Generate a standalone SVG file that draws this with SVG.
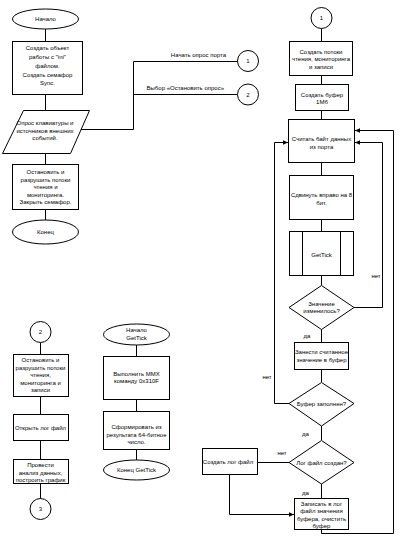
<svg xmlns="http://www.w3.org/2000/svg" width="406" height="544" viewBox="0 0 406 544">
<style>
.s{fill:#fff;stroke:#000;stroke-width:1}
.c{fill:none;stroke:#000;stroke-width:1}
.t{font-family:"Liberation Sans",Arial,sans-serif;font-size:6px;fill:#000;text-anchor:middle}
.r{text-anchor:end}
</style>
<defs>
<marker id="ar" markerUnits="userSpaceOnUse" markerWidth="6" markerHeight="6" refX="5" refY="3" orient="auto">
<path d="M0,0.8 L5,3 L0,5.2 Z" fill="#000"/>
</marker>
</defs>
<rect width="406" height="544" fill="#fff"/>
<g id="connectors">
<path class="c" d="M45.5,29 V41 M45.5,95 V110 M45.5,153 V164 M45.5,210 V220"/>
<path class="c" d="M80.5,129.5 H133.5 V61.5 H237.5 M133.5,94.5 H237.5"/>
<path class="c" d="M321.5,28.5 V41 M321.5,76 V84 M321.5,111 V119 M321.5,163 V175 M321.5,220 V231 M321.5,276 V285 M321.5,329 V342 M321.5,370 V382 M321.5,426 V440 M321.5,484 V498"/>
<path class="c" d="M354,307.5 H382.5 V142.5 H355" marker-end="url(#ar)"/>
<path class="c" d="M289,403.5 H274.5 V142.5 H288" marker-end="url(#ar)"/>
<path class="c" d="M289,462.5 H258"/>
<path class="c" d="M229.5,475 V514.5 H294" marker-end="url(#ar)"/>
<path class="c" d="M321.5,530 V533.5 H393.5 V130.5 H355" marker-end="url(#ar)"/>
<path class="c" d="M40.5,342.5 V354 M40.5,397 V414 M40.5,441 V459 M40.5,483 V498.5"/>
<path class="c" d="M136.5,345 V356 M136.5,400 V411 M136.5,450 V460"/>
<text class="t r" x="226" y="57">Начать опрос порта</text>
<text class="t r" x="224" y="90">Выбор «Остановить опрос»</text>
<text class="t" x="376" y="278">нет</text>
<text class="t" x="307" y="338">да</text>
<text class="t" x="267" y="379">нет</text>
<text class="t" x="305.5" y="436">да</text>
<text class="t" x="282" y="455">нет</text>
<text class="t" x="305.5" y="495">да</text>
</g>
<g id="start">
<ellipse class="s" cx="45.5" cy="19" rx="33" ry="10"/>
<text class="t" x="45.5" y="21">Начало</text>
</g>
<g id="init">
<rect class="s" x="12.5" y="41.5" width="70" height="53"/>
<text class="t" x="47.5" y="50">Создать объект</text>
<text class="t" x="47.5" y="59">работы с "ini"</text>
<text class="t" x="47.5" y="68">файлом.</text>
<text class="t" x="47.5" y="76.5">Создать семафор</text>
<text class="t" x="47.5" y="85">Sync.</text>
</g>
<g id="poll">
<polygon class="s" points="23.5,110.5 89.5,110.5 70.5,153.5 2.5,153.5"/>
<text class="t" x="45" y="125">Опрос клавиатуры и</text>
<text class="t" x="45" y="132.5">источников внешних</text>
<text class="t" x="45" y="140">событий.</text>
</g>
<g id="stop1">
<rect class="s" x="12.5" y="164.5" width="66" height="45"/>
<text class="t" x="45.5" y="174">Остановить и</text>
<text class="t" x="45.5" y="181.5">разрушить потоки</text>
<text class="t" x="45.5" y="189">чтения и</text>
<text class="t" x="45.5" y="196.5">мониторинга.</text>
<text class="t" x="45.5" y="204">Закрыть семафор.</text>
</g>
<g id="end">
<ellipse class="s" cx="45.5" cy="232" rx="33" ry="12"/>
<text class="t" x="45.5" y="234">Конец</text>
</g>
<g id="c1">
<circle class="s" cx="248" cy="61" r="10.5"/>
<text class="t" x="248" y="63">1</text>
</g>
<g id="c2">
<circle class="s" cx="248" cy="94.5" r="10.5"/>
<text class="t" x="248" y="96.5">2</text>
</g>
<g id="r1">
<circle class="s" cx="321.5" cy="18" r="10.5"/>
<text class="t" x="321.5" y="20">1</text>
</g>
<g id="threads">
<rect class="s" x="289.5" y="41.5" width="63" height="34"/>
<text class="t" x="321" y="53.5">Создать потоки</text>
<text class="t" x="321" y="61">чтения, мониторинга</text>
<text class="t" x="321" y="68.5">и записи</text>
</g>
<g id="buffer">
<rect class="s" x="295.5" y="84.5" width="53" height="26"/>
<text class="t" x="322" y="96.5">Создать буфер</text>
<text class="t" x="322" y="104">1Мб</text>
</g>
<g id="read">
<rect class="s" x="288.5" y="119.5" width="66" height="43"/>
<text class="t" x="321.5" y="141">Считать байт данных</text>
<text class="t" x="321.5" y="149">из порта</text>
</g>
<g id="shift">
<rect class="s" x="289.5" y="175.5" width="64" height="44"/>
<text class="t" x="321.5" y="197">Сдвинуть вправо на 8</text>
<text class="t" x="321.5" y="204.5">бит.</text>
</g>
<g id="gettick">
<rect class="s" x="289.5" y="231.5" width="64" height="44"/>
<path class="c" d="M302.5,231.5 V275.5 M340.5,231.5 V275.5"/>
<text class="t" x="321.5" y="256.5">GetTick</text>
</g>
<g id="changed">
<polygon class="s" points="321.5,285.5 354,307.5 321.5,329.5 289,307.5"/>
<text class="t" x="321.5" y="305.5">Значение</text>
<text class="t" x="321.5" y="313">изменилось?</text>
</g>
<g id="store">
<rect class="s" x="294.5" y="342.5" width="54" height="27"/>
<text class="t" x="321.5" y="354">Занести считанное</text>
<text class="t" x="321.5" y="361.5">значение в буфер</text>
</g>
<g id="full">
<polygon class="s" points="321.5,382.5 354,403.5 321.5,426 289,403.5"/>
<text class="t" x="321.5" y="405.5">Буфер заполнен?</text>
</g>
<g id="logexists">
<polygon class="s" points="321.5,440.5 354,462.5 321.5,484 289,462.5"/>
<text class="t" x="321.5" y="464.5">Лог файл создан?</text>
</g>
<g id="createlog">
<rect class="s" x="202.5" y="448.5" width="55" height="26"/>
<text class="t" x="228" y="464">Создать лог файл</text>
</g>
<g id="write">
<rect class="s" x="294.5" y="498.5" width="54" height="31"/>
<text class="t" x="321.5" y="505.5">Записать в лог</text>
<text class="t" x="321.5" y="513">файл значения</text>
<text class="t" x="321.5" y="520.5">буфера, очистить</text>
<text class="t" x="321.5" y="528">буфер</text>
</g>
<g id="b2">
<circle class="s" cx="40.5" cy="332" r="10.5"/>
<text class="t" x="40.5" y="334">2</text>
</g>
<g id="stop2">
<rect class="s" x="13.5" y="354.5" width="55" height="42"/>
<text class="t" x="40.5" y="362">Остановить и</text>
<text class="t" x="40.5" y="369.5">разрушить потоки</text>
<text class="t" x="40.5" y="377">чтения,</text>
<text class="t" x="40.5" y="384.5">мониторинга и</text>
<text class="t" x="40.5" y="392">записи</text>
</g>
<g id="openlog">
<rect class="s" x="13.5" y="414.5" width="55" height="26"/>
<text class="t" x="40.5" y="430">Открыть лог файл</text>
</g>
<g id="analyze">
<rect class="s" x="13.5" y="459.5" width="55" height="24"/>
<text class="t" x="40.5" y="467">Провести</text>
<text class="t" x="40.5" y="474.5">анализ данных,</text>
<text class="t" x="40.5" y="482">построить график</text>
</g>
<g id="b3">
<circle class="s" cx="40.5" cy="509" r="10.5"/>
<text class="t" x="40.5" y="511">3</text>
</g>
<g id="gstart">
<ellipse class="s" cx="136.5" cy="334.5" rx="33" ry="10.5"/>
<text class="t" x="136.5" y="332">Начало</text>
<text class="t" x="136.5" y="339.5">GetTick</text>
</g>
<g id="mmx">
<rect class="s" x="103.5" y="356.5" width="66" height="43"/>
<text class="t" x="136.5" y="375.5">Выполнить MMX</text>
<text class="t" x="136.5" y="383">команду 0x310F</text>
</g>
<g id="form">
<rect class="s" x="103.5" y="411.5" width="66" height="38"/>
<text class="t" x="136.5" y="429">Сформировать из</text>
<text class="t" x="136.5" y="436.5">результата 64-битное</text>
<text class="t" x="136.5" y="444">число.</text>
</g>
<g id="gend">
<ellipse class="s" cx="136.5" cy="470" rx="33" ry="10"/>
<text class="t" x="136.5" y="472">Конец GetTick</text>
</g>
</svg>
